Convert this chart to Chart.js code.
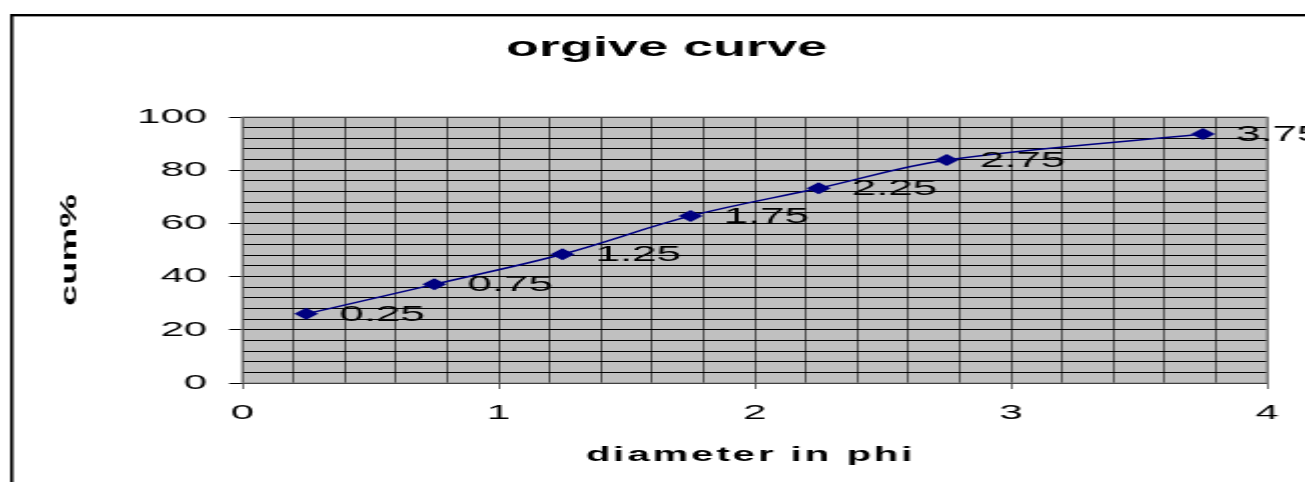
<!DOCTYPE html>
<html>
<head>
<meta charset="utf-8">
<script src="https://cdn.jsdelivr.net/npm/chart.js@4/dist/chart.umd.min.js"></script>
<style>
  html, body { margin: 0; padding: 0; background: #fff; overflow: hidden; }
  #wrap { position: absolute; left: 0; top: 0; width: 652px; height: 482px;
          transform-origin: 0 0; transform: scaleX(2.00153); }
</style>
</head>
<body>
<div id="wrap"><canvas id="ogive"></canvas></div>
<script>
// diameter (phi) and cumulative percent
const phi = [0.25, 0.75, 1.25, 1.75, 2.25, 2.75, 3.75];
const cumPercent = [26, 37.1, 48.4, 62.8, 73.2, 83.8, 93.6];
const pointLabels = ['0.25', '0.75', '1.25', '1.75', '2.25', '2.75', '3.75'];
const xTickLabels = [0, 1, 2, 3, 4];
const yTickLabels = [0, 20, 40, 60, 80, 100];

const FONT = '"Liberation Sans", Arial, sans-serif';

// frame, plot background, titles and point labels
const extras = {
  id: 'extras',
  beforeDraw(chart) {
    const ctx = chart.ctx, a = chart.chartArea;
    ctx.save();
    ctx.fillStyle = '#fff';
    ctx.fillRect(0, 0, chart.width, chart.height);
    ctx.fillStyle = '#c0c0c0';
    ctx.fillRect(a.left, a.top, a.right - a.left, a.bottom - a.top);
    ctx.fillStyle = '#000';
    ctx.fillRect(5, 14, 1.6, chart.height);
    ctx.fillRect(5, 14, chart.width, 2.4);

    ctx.textAlign = 'center';
    ctx.textBaseline = 'alphabetic';
    ctx.font = 'bold 27px ' + FONT;
    ctx.fillText('orgive curve', 333, 56);
    ctx.font = 'bold 20px ' + FONT;
    ctx.letterSpacing = '1.5px';
    ctx.fillText('diameter in phi', 375, 461);
    ctx.letterSpacing = '0px';

    ctx.translate(35, 250);
    ctx.rotate(-Math.PI / 2);
    ctx.scale(1, 0.3);
    ctx.textBaseline = 'middle';
    ctx.font = 'bold 38px ' + FONT;
    ctx.fillText('cum%', 0, 0);
    ctx.restore();
  },
  beforeDatasetsDraw(chart) {
    const ctx = chart.ctx, a = chart.chartArea;
    ctx.save();
    ctx.strokeStyle = '#808080';
    ctx.lineWidth = 1;
    ctx.strokeRect(a.left, a.top, a.right - a.left, a.bottom - a.top);
    ctx.restore();
  },
  afterDatasetsDraw(chart) {
    const ctx = chart.ctx;
    const meta = chart.getDatasetMeta(0);
    ctx.save();
    ctx.fillStyle = '#000';
    ctx.font = '22px ' + FONT;
    ctx.textAlign = 'left';
    ctx.textBaseline = 'middle';
    meta.data.forEach((pt, i) => {
      ctx.fillText(pointLabels[i], pt.x + 16.5, pt.y + 1);
    });
    ctx.restore();
  }
};

const isWhole = v => Math.abs(v - Math.round(v)) < 1e-6;

new Chart(document.getElementById('ogive'), {
  type: 'line',
  data: {
    datasets: [{
      data: phi.map((x, i) => ({ x: x, y: cumPercent[i] })),
      borderColor: '#000080',
      backgroundColor: '#000080',
      borderWidth: 1.5,
      pointStyle: 'rectRot',
      pointRadius: 6,
      pointBorderWidth: 0,
      tension: 0.35,
      fill: false
    }]
  },
  options: {
    responsive: true,
    maintainAspectRatio: false,
    animation: false,
    devicePixelRatio: 1,
    layout: { padding: { left: 0, right: 19, top: 117, bottom: 0 } },
    plugins: { legend: { display: false }, tooltip: { enabled: false }, title: { display: false } },
    scales: {
      x: {
        type: 'linear',
        min: 0, max: 4,
        afterFit(s) { s.height = 99; },
        border: { display: false },
        grid: {
          color: '#000',
          lineWidth: 0.55,
          tickLength: 6,
          tickColor: c => isWhole(c.tick.value) ? '#000' : 'rgba(0,0,0,0)'
        },
        ticks: {
          stepSize: 0.2,
          autoSkip: false,
          maxRotation: 0,
          padding: 12,
          color: '#000',
          font: { family: FONT, size: 21 },
          callback: v => isWhole(v) && xTickLabels.includes(Math.round(v)) ? String(Math.round(v)) : ''
        }
      },
      y: {
        min: 0, max: 100,
        afterFit(s) { s.width = 121; },
        border: { display: false },
        grid: {
          color: '#000',
          lineWidth: 1,
          tickLength: 6.5,
          tickColor: c => c.tick.value % 20 === 0 ? '#000' : 'rgba(0,0,0,0)'
        },
        ticks: {
          stepSize: 4,
          autoSkip: false,
          padding: 11,
          color: '#000',
          font: { family: FONT, size: 21 },
          callback: v => yTickLabels.includes(v) ? String(v) : ''
        }
      }
    }
  },
  plugins: [extras]
});
</script>
</body>
</html>
